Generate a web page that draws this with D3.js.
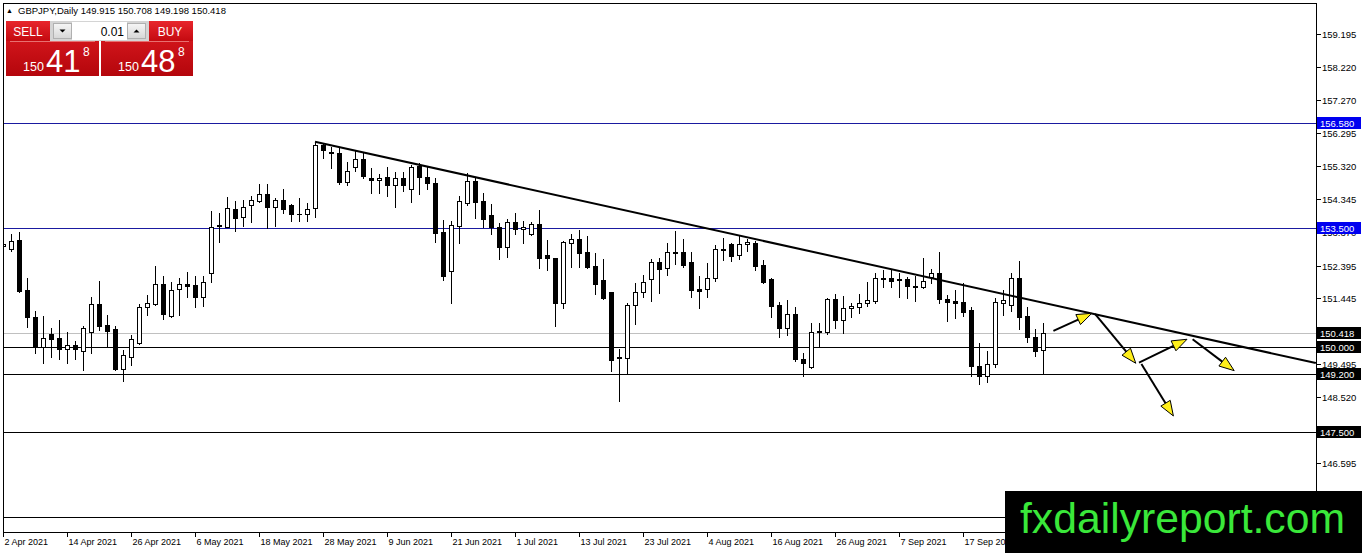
<!DOCTYPE html>
<html>
<head>
<meta charset="UTF-8">
<title>GBPJPY Daily</title>
<style>
  body { margin: 0; background: #ffffff; }
  svg { display: block; font-family: "Liberation Sans", Arial, sans-serif; }
</style>
</head>
<body>
<svg id="chart" width="1362" height="553"></svg>
<script src="https://d3js.org/d3.v7.min.js"></script>
<script>
// ---- data ----
const symbolName = "GBPJPY,Daily";
const lastOHLC = [149.915, 150.708, 149.198, 150.418];
const sellPrice = ["150", "41", "8"];
const buyPrice = ["150", "48", "8"];
const lotSize = "0.01";

const opens = [152.969,152.889,153.145,151.677,150.892,149.994,150.384,150.258,149.935,150.061,
  149.894,150.452,151.265,150.649,150.531,149.356,149.718,150.129,151.168,151.265,
  151.853,150.922,151.697,151.853,151.823,151.462,152.167,153.571,153.536,154.047,
  153.812,154.164,154.299,154.487,154.123,154.311,154.164,153.917,153.900,154.076,
  155.935,155.721,155.691,154.857,155.280,155.515,154.957,154.907,154.986,154.760,
  154.957,154.634,155.318,154.986,154.810,153.389,152.243,153.556,154.240,154.878,
  154.290,153.879,153.518,152.931,153.674,153.459,153.321,153.615,152.704,152.607,
  151.286,153.048,153.165,152.801,152.381,151.970,151.618,149.700,149.671,151.227,
  151.627,151.991,152.499,152.314,152.772,152.784,152.490,151.697,151.697,152.020,
  152.851,153.028,152.704,153.019,153.048,152.411,151.991,151.236,150.552,150.963,
  149.641,149.424,150.452,150.452,151.403,150.795,151.139,151.186,151.286,151.362,
  151.991,152.020,151.991,151.991,151.794,151.756,152.050,152.167,151.403,151.353,
  151.315,151.089,149.445,149.151,149.494,151.303,151.236,152.020,150.913,150.287,
  149.915];
const highs = [153.204,153.321,153.380,152.038,151.069,150.913,150.552,150.795,150.434,150.179,
  150.619,151.480,151.941,150.942,150.619,149.914,150.355,151.265,151.530,152.381,
  152.088,151.920,152.020,152.196,152.088,152.088,153.997,153.929,154.399,154.290,
  154.320,154.437,154.790,154.790,154.370,154.634,154.202,154.387,154.240,156.032,
  156.003,155.885,155.838,155.445,155.768,155.709,155.251,155.075,155.280,155.151,
  155.151,155.348,155.415,155.280,154.957,153.732,153.712,154.437,155.104,155.004,
  154.517,154.202,153.635,153.753,153.929,153.712,153.682,154.026,153.145,152.620,
  153.110,153.321,153.438,153.262,152.754,152.578,151.630,149.935,151.303,151.873,
  152.117,152.578,152.607,153.066,153.409,153.165,152.801,152.088,152.461,152.998,
  153.195,153.066,153.262,153.165,153.124,152.558,152.020,151.333,151.383,151.168,
  149.835,150.716,150.716,151.433,151.559,151.500,151.286,151.559,151.920,152.167,
  152.264,152.264,152.185,152.067,152.088,152.607,152.284,152.801,151.530,151.677,
  151.891,151.168,150.111,149.894,151.433,151.677,152.167,152.537,151.186,150.522,
  150.708];
const lows = [152.646,152.831,151.627,150.599,149.835,149.541,149.718,149.641,149.541,149.641,
  149.327,149.835,150.502,149.994,149.327,149.013,149.474,150.091,150.942,151.236,
  150.825,150.875,150.942,151.480,151.186,151.215,151.920,153.095,153.518,153.418,
  153.565,153.682,154.270,153.489,153.565,153.929,153.712,153.712,153.712,153.812,
  155.544,155.251,154.790,154.760,155.180,154.957,154.517,154.517,154.437,154.123,
  154.593,154.270,154.487,154.634,153.095,151.970,151.286,153.048,154.173,153.782,
  153.518,153.321,152.578,152.637,153.307,153.048,153.292,152.314,152.264,150.619,
  151.139,152.361,152.361,152.314,151.559,151.403,149.306,148.425,149.248,150.678,
  151.462,151.362,151.580,152.117,152.440,152.361,151.480,151.139,151.480,151.950,
  152.558,152.537,152.578,152.831,152.264,151.891,150.892,150.305,150.355,149.600,
  149.151,149.377,149.994,150.384,150.552,150.423,150.892,151.010,151.207,151.286,
  151.756,151.756,151.462,151.433,151.362,151.740,151.873,151.286,150.775,150.845,
  150.913,149.151,148.916,148.983,149.424,150.942,151.069,150.522,150.158,149.738,
  149.198];
const closes = [153.028,153.124,151.656,150.875,150.041,150.258,150.229,149.935,150.061,149.935,
  150.561,151.265,150.628,150.481,149.356,149.768,150.229,151.186,151.286,151.853,
  150.972,151.677,151.853,151.803,151.462,151.903,153.536,153.556,154.076,153.782,
  154.105,154.311,154.487,154.123,154.311,154.055,153.900,153.900,154.064,155.935,
  155.788,155.691,154.857,155.180,155.515,155.025,154.907,154.975,154.760,154.957,
  154.760,155.280,154.986,154.810,153.359,152.088,153.586,154.290,154.878,154.270,
  153.753,153.518,152.931,153.682,153.459,153.518,153.615,152.607,152.607,151.303,
  153.095,153.165,152.772,152.361,151.844,151.450,149.621,149.671,151.227,151.609,
  151.912,152.499,152.302,152.784,152.801,152.411,151.677,151.656,152.020,152.872,
  152.872,152.684,153.028,153.086,152.390,151.920,151.215,150.552,150.963,149.641,
  149.541,150.452,150.481,151.403,150.795,151.139,151.207,151.303,151.383,152.020,
  152.020,151.950,151.970,151.794,151.756,151.950,152.167,151.403,151.333,151.303,
  151.039,149.445,149.151,149.494,151.315,151.383,152.020,150.892,150.287,149.894,
  150.418];

// visible price scale labels (the ones hidden under level boxes / the logo are left out)
const priceTicks = [159.195, 158.220, 157.270, 156.295, 155.320, 154.345, 153.370,
  152.395, 151.445, 149.495, 148.520, 146.595];
const blueLevels = [156.580, 153.500];
const blackLevels = [150.000, 149.200, 147.500, 145.000];
const bidLevel = 150.418;

// trend line anchors: [bar index, price]
const trendLine = [[39, 156.03], [164.1, 149.53]];
// drawn arrows: [bar from, price from, bar to, price to]
const arrows = [
  [131.3, 150.473, 136.1, 150.992],
  [136.5, 150.972, 141.6, 149.524],
  [142.0, 149.542, 148.0, 150.229],
  [148.7, 150.229, 153.9, 149.307],
  [142.3, 149.503, 146.3, 147.976]
];

// trading days from 2 Apr 2021, weekends skipped
const dates = d3.utcDay.range(new Date(Date.UTC(2021, 3, 2)), new Date(Date.UTC(2021, 9, 2)))
  .filter(d => d.getUTCDay() !== 0 && d.getUTCDay() !== 6);
const dateFmt = d3.utcFormat("%-d %b %Y");

// ---- layout ----
const W = 1362, H = 553;
const pL = 3, pR = 1316, pT = 3, pB = 532;
const logoX = 1005, logoY = 491;

const svg = d3.select("#chart");
const x = d3.scaleLinear().domain([0, 164.125]).range([pL, pR]);
const y = d3.scaleLinear().domain([146.595, 159.195]).range([463, 34]);
const px = v => Math.round(v) + 0.5;

const defs = svg.append("defs");
defs.append("clipPath").attr("id", "plot")
  .append("rect").attr("x", pL).attr("y", pT).attr("width", pR - pL).attr("height", pB - pT);

function grad(id, c1, c2) {
  const g = defs.append("linearGradient").attr("id", id).attr("x1", 0).attr("y1", 0).attr("x2", 0).attr("y2", 1);
  g.append("stop").attr("offset", "0%").attr("stop-color", c1);
  g.append("stop").attr("offset", "100%").attr("stop-color", c2);
}
grad("redTop", "#e8262c", "#c40a10");
grad("redBox", "#d0141a", "#b4060c");
grad("btn", "#f6f6f6", "#d6d6d6");

const plot = svg.append("g").attr("clip-path", "url(#plot)");

// horizontal levels
plot.append("line")
  .attr("x1", pL).attr("x2", pR)
  .attr("y1", px(y(bidLevel))).attr("y2", px(y(bidLevel)))
  .attr("stroke", "#c0c0c0").attr("stroke-width", 1);

plot.selectAll(".blue").data(blueLevels).enter().append("line")
  .attr("x1", pL).attr("x2", pR)
  .attr("y1", d => px(y(d))).attr("y2", d => px(y(d)))
  .attr("stroke", "#1a1aa0").attr("stroke-width", 1);

plot.selectAll(".blk").data(blackLevels).enter().append("line")
  .attr("x1", pL).attr("x2", pR)
  .attr("y1", d => px(y(d))).attr("y2", d => px(y(d)))
  .attr("stroke", "#000").attr("stroke-width", 1);

// candles
const bars = d3.range(opens.length);
const cg = plot.append("g");
cg.selectAll(".wick").data(bars).enter().append("line")
  .attr("x1", i => Math.round(x(i)) + 0.5).attr("x2", i => Math.round(x(i)) + 0.5)
  .attr("y1", i => Math.round(y(highs[i]))).attr("y2", i => Math.round(y(lows[i])) + 1)
  .attr("stroke", "#000").attr("stroke-width", 1);

bars.forEach(i => {
  const cx = Math.round(x(i));
  const yo = Math.round(y(opens[i])), yc = Math.round(y(closes[i]));
  const y0 = Math.min(yo, yc), y1 = Math.max(yo, yc);
  const bull = closes[i] >= opens[i];
  if (y1 - y0 < 1) {
    cg.append("line")
      .attr("x1", cx - 2).attr("x2", cx + 3)
      .attr("y1", y0 + 0.5).attr("y2", y0 + 0.5)
      .attr("stroke", "#000");
  } else {
    cg.append("rect")
      .attr("x", cx - 2 + 0.5).attr("y", y0 + 0.5)
      .attr("width", 4).attr("height", y1 - y0)
      .attr("fill", bull ? "#fff" : "#000")
      .attr("stroke", "#000").attr("stroke-width", 1);
  }
});

// trend line
plot.append("line")
  .attr("x1", x(trendLine[0][0])).attr("y1", y(trendLine[0][1]))
  .attr("x2", x(trendLine[1][0])).attr("y2", y(trendLine[1][1]))
  .attr("stroke", "#000").attr("stroke-width", 2);

// arrows
arrows.forEach(a => {
  const x1 = x(a[0]), y1 = y(a[1]), x2 = x(a[2]), y2 = y(a[3]);
  const ang = Math.atan2(y2 - y1, x2 - x1);
  const len = 15, hw = 5.5;
  const bx = x2 - len * Math.cos(ang), by = y2 - len * Math.sin(ang);
  plot.append("line")
    .attr("x1", x1).attr("y1", y1).attr("x2", bx).attr("y2", by)
    .attr("stroke", "#000").attr("stroke-width", 2);
  const pts = [
    [x2, y2],
    [bx + hw * Math.sin(ang), by - hw * Math.cos(ang)],
    [bx - hw * Math.sin(ang), by + hw * Math.cos(ang)]
  ];
  plot.append("polygon")
    .attr("points", pts.map(p => p.join(",")).join(" "))
    .attr("fill", "#ffef1a").attr("stroke", "#000").attr("stroke-width", 1);
});

// frame
const frame = svg.append("g").attr("stroke", "#000").attr("stroke-width", 1);
frame.append("line").attr("x1", pL).attr("x2", pR + 1).attr("y1", pT + 0.5).attr("y2", pT + 0.5);
frame.append("line").attr("x1", pL + 0.5).attr("x2", pL + 0.5).attr("y1", pT).attr("y2", pB + 1);
frame.append("line").attr("x1", pL).attr("x2", pR + 1).attr("y1", pB + 0.5).attr("y2", pB + 0.5);
frame.append("line").attr("x1", pR + 0.5).attr("x2", pR + 0.5).attr("y1", pT).attr("y2", H);

// price axis
const pa = svg.append("g");
priceTicks.forEach(t => {
  const yy = px(y(t));
  pa.append("line").attr("x1", pR + 1).attr("x2", pR + 5).attr("y1", yy).attr("y2", yy)
    .attr("stroke", "#000");
  pa.append("text").attr("x", pR + 6).attr("y", yy + 3.5)
    .attr("font-size", 9.5).attr("fill", "#000").text(t.toFixed(3));
});

function levelLabel(v, bg) {
  const yy = Math.round(y(v));
  if (yy + 6 > logoY) return; // sits under the logo
  pa.append("rect").attr("x", pR + 1).attr("y", yy - 6).attr("width", 44).attr("height", 12).attr("fill", bg);
  pa.append("text").attr("x", pR + 4).attr("y", yy + 4)
    .attr("font-size", 9.5).attr("fill", "#fff").text(v.toFixed(3));
}
blueLevels.forEach(v => levelLabel(v, "#0000f0"));
blackLevels.forEach(v => levelLabel(v, "#000"));
levelLabel(bidLevel, "#000");

// date axis
const da = svg.append("g");
d3.range(0, dates.length, 8).forEach(i => {
  const xx = Math.round(x(i)) + 0.5;
  if (xx > logoX) return; // covered by the logo
  da.append("line").attr("x1", xx).attr("x2", xx).attr("y1", pB + 1).attr("y2", pB + 5).attr("stroke", "#000");
  da.append("text").attr("x", xx + 1).attr("y", pB + 13)
    .attr("font-size", 9).attr("fill", "#000").text(dateFmt(dates[i]));
});

// header
svg.append("text").attr("x", 6).attr("y", 13).attr("font-size", 7).attr("fill", "#000").text("\u25B2");
svg.append("text").attr("x", 18).attr("y", 13.5).attr("font-size", 9.5).attr("fill", "#000")
  .text(symbolName + "  " + lastOHLC.map(v => v.toFixed(3)).join(" "));

// one-click trading panel
const panel = svg.append("g");
panel.append("rect").attr("x", 6).attr("y", 21).attr("width", 44).attr("height", 20).attr("fill", "url(#redTop)");
panel.append("rect").attr("x", 149).attr("y", 21).attr("width", 44).attr("height", 20).attr("fill", "url(#redTop)");
panel.append("rect").attr("x", 50).attr("y", 21).attr("width", 99).attr("height", 20).attr("fill", "#d4d4d4");
panel.append("rect").attr("x", 72).attr("y", 22).attr("width", 55).attr("height", 18).attr("fill", "#fff");
panel.append("rect").attr("x", 53.5).attr("y", 23.5).attr("width", 18).attr("height", 15)
  .attr("fill", "url(#btn)").attr("stroke", "#b0b0b0");
panel.append("rect").attr("x", 127.5).attr("y", 23.5).attr("width", 18).attr("height", 15)
  .attr("fill", "url(#btn)").attr("stroke", "#b0b0b0");
panel.append("path").attr("d", "M59.5,29.5 L65.5,29.5 L62.5,32.5 Z").attr("fill", "#000");
panel.append("path").attr("d", "M133.5,32.5 L139.5,32.5 L136.5,29.5 Z").attr("fill", "#000");
panel.append("text").attr("x", 124).attr("y", 35.5).attr("text-anchor", "end")
  .attr("font-size", 12).attr("fill", "#000").text(lotSize);
panel.append("text").attr("x", 28).attr("y", 35.5).attr("text-anchor", "middle")
  .attr("font-size", 12).attr("fill", "#fff").text("SELL");
panel.append("text").attr("x", 170).attr("y", 35.5).attr("text-anchor", "middle")
  .attr("font-size", 12).attr("fill", "#fff").text("BUY");

function priceBox(bx, w, parts) {
  panel.append("rect").attr("x", bx).attr("y", 41).attr("width", w).attr("height", 35).attr("fill", "url(#redBox)");
  panel.append("line").attr("x1", bx + 4).attr("x2", bx + w - 4).attr("y1", 41.5).attr("y2", 41.5)
    .attr("stroke", "#e87070").attr("stroke-width", 1);
  panel.append("text").attr("x", bx + 17).attr("y", 71).attr("font-size", 12.5).attr("fill", "#fff").text(parts[0]);
  panel.append("text").attr("x", bx + 40).attr("y", 71.5).attr("font-size", 31).attr("fill", "#fff").text(parts[1]);
  panel.append("text").attr("x", bx + 77).attr("y", 55.5).attr("font-size", 12).attr("fill", "#fff").text(parts[2]);
}
priceBox(6, 93, sellPrice);
priceBox(101, 92, buyPrice);

// watermark
svg.append("rect").attr("x", logoX).attr("y", logoY).attr("width", W - logoX).attr("height", H - logoY).attr("fill", "#000");
svg.append("text").attr("x", 1020).attr("y", 533).attr("font-size", 42)
  .attr("textLength", 325).attr("lengthAdjust", "spacingAndGlyphs")
  .attr("fill", "#3ae83a").text("fxdailyreport.com");
</script>
</body>
</html>
